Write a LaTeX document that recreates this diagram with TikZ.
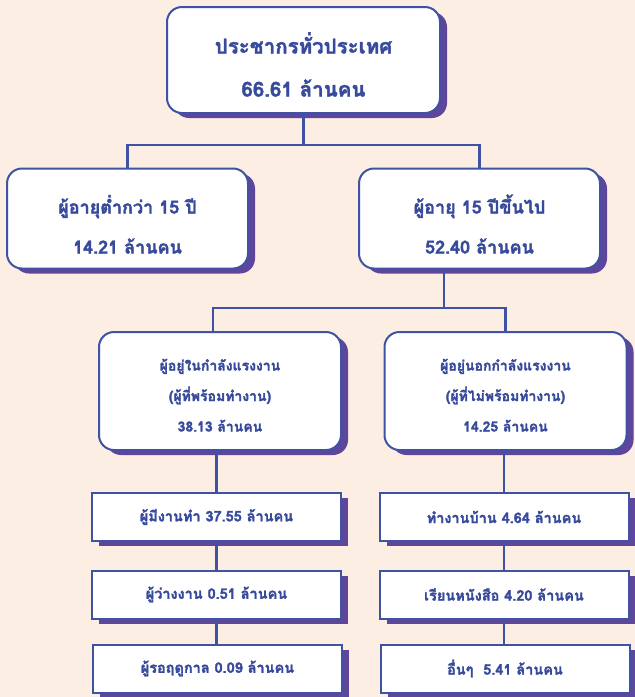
\documentclass[tikz,border=0pt]{standalone}
\usepackage{fontspec}
\newfontfamily\thaifont[Script=Thai, BoldFeatures={FakeBold=1.8}]{Loma}
\usetikzlibrary{shadows}

\definecolor{bgpeach}{RGB}{253,238,228}
\definecolor{boxblue}{RGB}{62,82,166}
\definecolor{shadowpurple}{RGB}{94,70,154}
\definecolor{txtblue}{RGB}{55,74,155}

\begin{document}
\begin{tikzpicture}[x=1pt, y=-1pt,
    box/.style={draw=boxblue, line width=2pt, fill=white, rounded corners=15pt,
      inner sep=0pt, align=center, text=txtblue,
      drop shadow={shadow xshift=7pt, shadow yshift=-5pt, fill=shadowpurple, opacity=1}},
    bigbox/.style={box, minimum width=241pt, minimum height=100pt,
      text height=70pt, text depth=0pt,
      font=\thaifont\bfseries\fontsize{18}{40}\selectfont},
    midbox/.style={box, minimum width=242pt, minimum height=118pt,
      text height=81pt, text depth=0pt,
      font=\thaifont\bfseries\fontsize{14}{30.5}\selectfont},
    smallbox/.style={box, sharp corners, minimum width=249pt, minimum height=48pt,
      font=\thaifont\bfseries\fontsize{14.5}{16}\selectfont},
    link/.style={draw=boxblue, line width=2.8pt}]

    % 背景
    \fill[bgpeach] (0,0) rectangle (635,697);
    \useasboundingbox (0,0) rectangle (635,697);

    % 顶层
    \node[box, minimum width=273pt, minimum height=106pt, text height=73pt, text depth=0pt,
      font=\thaifont\bfseries\fontsize{20.5}{43}\selectfont] (total) at (303.5,60)
      {ประชากรทั่วประเทศ\\66.61 ล้านคน};

    % 年龄
    \node[bigbox] (young) at (127.5,218.5) {ผู้อายุต่ำกว่า 15 ปี\\14.21 ล้านคน};
    \node[bigbox] (adult) at (479.5,218.5) {ผู้อายุ 15 ปีขึ้นไป\\52.40 ล้านคน};

    % 劳动力
    \node[midbox] (inlf) at (220,391) {ผู้อยู่ในกำลังแรงงาน\\(ผู้ที่พร้อมทำงาน)\\38.13 ล้านคน};
    \node[midbox] (outlf) at (505.5,391) {ผู้อยู่นอกกำลังแรงงาน\\(ผู้ที่ไม่พร้อมทำงาน)\\14.25 ล้านคน};

    % 左列
    \node[smallbox] (employed) at (216.5,517) {ผู้มีงานทำ 37.55 ล้านคน};
    \node[smallbox] (unemployed) at (216.5,594.5) {ผู้ว่างงาน 0.51 ล้านคน};
    \node[smallbox] (seasonal) at (217.5,668.5) {ผู้รอฤดูกาล 0.09 ล้านคน};

    % 右列
    \node[smallbox] (housework) at (504,517) {ทำงานบ้าน 4.64 ล้านคน};
    \node[smallbox] (study) at (504,594.5) {เรียนหนังสือ 4.20 ล้านคน};
    \node[smallbox] (others) at (505,668.5) {อื่นๆ\ \ 5.41 ล้านคน};

    % 连线
    \coordinate (split1) at (303.5,145);
    \coordinate (split2) at (444,308);
    \draw[link] (total.south) -- (split1);
    \draw[link] (young.north) |- (split1) -| (adult.north);
    \draw[link] (split2 |- adult.south) -- (split2);
    \draw[link] ([xshift=-7pt]inlf.north) |- (split2) -| (outlf.north);

    \draw[link] (employed.north) -- (employed.north |- inlf.south);
    \draw[link] (employed) -- (unemployed);
    \draw[link] (unemployed) -- (unemployed |- seasonal.north);
    \draw[link] (housework.north) -- (housework.north |- outlf.south);
    \draw[link] (housework) -- (study);
    \draw[link] (study) -- (study |- others.north);
  \end{tikzpicture}
\end{document}
